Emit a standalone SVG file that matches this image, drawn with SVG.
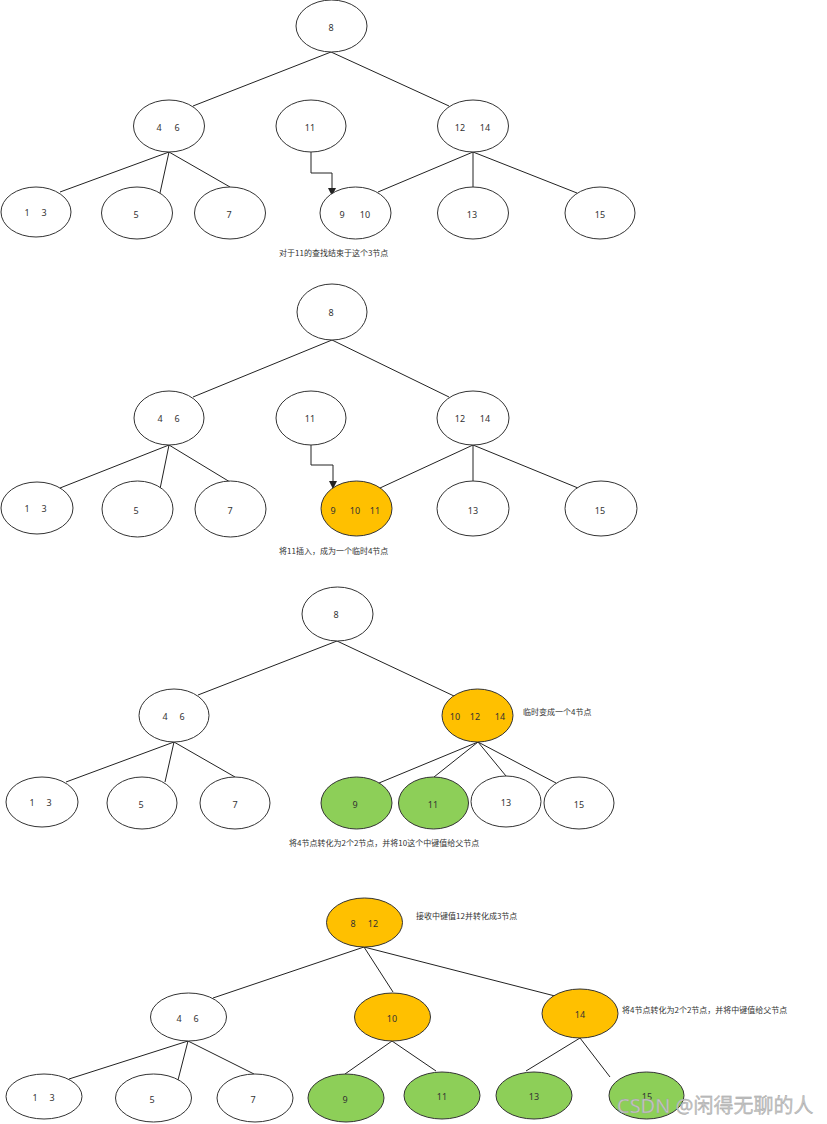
<svg xmlns="http://www.w3.org/2000/svg" width="827" height="1124" viewBox="0 0 827 1124">
<style>
.n{fill:#fff;stroke:#333;stroke-width:1}
.o{fill:#FFC000;stroke:#333;stroke-width:1}
.g{fill:#8DCF58;stroke:#333;stroke-width:1}
.t{font-family:"Noto Sans","Noto Sans CJK SC",sans-serif;font-size:9px;fill:#333;text-anchor:middle;dominant-baseline:central}
.c{font-family:"Noto Sans CJK SC","Noto Sans",sans-serif;font-size:8px;fill:#333}
.e{stroke:#222;stroke-width:1;fill:none}
.wm{font-family:"Noto Sans","Noto Sans CJK SC",sans-serif;font-size:20px;fill:#c4c4c4;stroke:#9a9a9a;stroke-width:0.3}
</style>
<defs>
<marker id="ah" markerWidth="8" markerHeight="8" refX="7" refY="4" orient="auto" markerUnits="userSpaceOnUse">
<path d="M0,0 L8,4 L0,8 Z" fill="#222"/>
</marker>
</defs>
<rect width="827" height="1124" fill="#fff"/>

<g id="connectors">
<line class="e" x1="331" y1="52" x2="193" y2="106"/>
<line class="e" x1="331" y1="52" x2="449" y2="106"/>
<line class="e" x1="169" y1="152" x2="60" y2="192"/>
<line class="e" x1="169" y1="152" x2="160" y2="193"/>
<line class="e" x1="169" y1="152" x2="230" y2="187"/>
<line class="e" x1="473" y1="152" x2="378" y2="192"/>
<line class="e" x1="473" y1="152" x2="473" y2="188"/>
<line class="e" x1="473" y1="152" x2="577" y2="193"/>
<polyline class="e" points="311,152 311,173 332,173 332,195" marker-end="url(#ah)"/>
<line class="e" x1="332" y1="340" x2="193" y2="397"/>
<line class="e" x1="332" y1="340" x2="449" y2="397"/>
<line class="e" x1="169" y1="445" x2="60" y2="488"/>
<line class="e" x1="169" y1="445" x2="160" y2="489"/>
<line class="e" x1="169" y1="445" x2="230" y2="482"/>
<line class="e" x1="473" y1="445" x2="380" y2="488"/>
<line class="e" x1="473" y1="445" x2="473" y2="481"/>
<line class="e" x1="473" y1="445" x2="578" y2="488"/>
<polyline class="e" points="311,445 311,465 333,465 333,488" marker-end="url(#ah)"/>
<line class="e" x1="337" y1="641" x2="198" y2="695"/>
<line class="e" x1="337" y1="641" x2="454" y2="696"/>
<line class="e" x1="174" y1="742" x2="66" y2="782"/>
<line class="e" x1="174" y1="742" x2="165" y2="782"/>
<line class="e" x1="174" y1="742" x2="235" y2="777"/>
<line class="e" x1="478" y1="742" x2="379" y2="783"/>
<line class="e" x1="478" y1="742" x2="434" y2="777"/>
<line class="e" x1="478" y1="742" x2="506" y2="776"/>
<line class="e" x1="478" y1="742" x2="556" y2="783"/>
<line class="e" x1="364" y1="947" x2="213" y2="998"/>
<line class="e" x1="364" y1="947" x2="393" y2="992"/>
<line class="e" x1="364" y1="947" x2="555" y2="996"/>
<line class="e" x1="188" y1="1041" x2="69" y2="1079"/>
<line class="e" x1="188" y1="1041" x2="178" y2="1080"/>
<line class="e" x1="188" y1="1041" x2="254" y2="1074"/>
<line class="e" x1="392" y1="1041" x2="345" y2="1074"/>
<line class="e" x1="392" y1="1041" x2="436" y2="1071"/>
<line class="e" x1="580" y1="1038" x2="526" y2="1071"/>
<line class="e" x1="580" y1="1038" x2="610" y2="1077"/>
</g>

<g id="p1-8"><ellipse class="n" cx="331.5" cy="26" rx="35.5" ry="26"/><text class="t" x="331" y="27">8</text></g>
<g id="p1-46"><ellipse class="n" cx="169" cy="126" rx="35.5" ry="26"/><text class="t" y="127"><tspan x="159">4</tspan><tspan x="177">6</tspan></text></g>
<g id="p1-11"><ellipse class="n" cx="311" cy="126" rx="35" ry="26"/><text class="t" x="310" y="127">11</text></g>
<g id="p1-1214"><ellipse class="n" cx="473" cy="126" rx="35.5" ry="26"/><text class="t" y="127"><tspan x="460">12</tspan><tspan x="485">14</tspan></text></g>
<g id="p1-13a"><ellipse class="n" cx="36" cy="212" rx="35" ry="25"/><text class="t" y="212"><tspan x="27">1</tspan><tspan x="44">3</tspan></text></g>
<g id="p1-5"><ellipse class="n" cx="137" cy="213" rx="35.5" ry="26"/><text class="t" x="136" y="214">5</text></g>
<g id="p1-7"><ellipse class="n" cx="230" cy="213" rx="35.5" ry="26"/><text class="t" x="229" y="214">7</text></g>
<g id="p1-910"><ellipse class="n" cx="355.5" cy="213" rx="35.5" ry="26"/><text class="t" y="214"><tspan x="342">9</tspan><tspan x="365">10</tspan></text></g>
<g id="p1-13"><ellipse class="n" cx="473" cy="213" rx="35.5" ry="26"/><text class="t" x="472" y="214">13</text></g>
<g id="p1-15"><ellipse class="n" cx="600" cy="213" rx="35" ry="26"/><text class="t" x="600" y="214">15</text></g>
<g id="p1-cap"><text class="c" x="279" y="256">对于11的查找结束于这个3节点</text></g>

<g id="p2-8"><ellipse class="n" cx="332" cy="312" rx="35" ry="28"/><text class="t" x="331" y="312">8</text></g>
<g id="p2-46"><ellipse class="n" cx="169" cy="418" rx="35" ry="27"/><text class="t" y="418"><tspan x="160">4</tspan><tspan x="177">6</tspan></text></g>
<g id="p2-11"><ellipse class="n" cx="311" cy="418" rx="35" ry="27"/><text class="t" x="310" y="418">11</text></g>
<g id="p2-1214"><ellipse class="n" cx="473" cy="418" rx="36" ry="27"/><text class="t" y="418"><tspan x="460">12</tspan><tspan x="485">14</tspan></text></g>
<g id="p2-13a"><ellipse class="n" cx="37" cy="508" rx="36" ry="26"/><text class="t" y="508"><tspan x="27">1</tspan><tspan x="44">3</tspan></text></g>
<g id="p2-5"><ellipse class="n" cx="137.5" cy="509" rx="35.5" ry="28"/><text class="t" x="136" y="510">5</text></g>
<g id="p2-7"><ellipse class="n" cx="230.5" cy="509" rx="35.5" ry="28"/><text class="t" x="230" y="510">7</text></g>
<g id="p2-91011"><ellipse class="o" cx="356.5" cy="508.5" rx="35.5" ry="27.5"/><text class="t" y="510"><tspan x="333">9</tspan><tspan x="355">10</tspan><tspan x="375">11</tspan></text></g>
<g id="p2-13"><ellipse class="n" cx="473" cy="508.5" rx="36" ry="27.5"/><text class="t" x="473" y="510">13</text></g>
<g id="p2-15"><ellipse class="n" cx="601" cy="508.5" rx="36" ry="27.5"/><text class="t" x="600" y="510">15</text></g>
<g id="p2-cap"><text class="c" x="279" y="554">将11插入，成为一个临时4节点</text></g>

<g id="p3-8"><ellipse class="n" cx="337.5" cy="614" rx="35.5" ry="27"/><text class="t" x="336" y="614">8</text></g>
<g id="p3-46"><ellipse class="n" cx="174" cy="715.5" rx="35" ry="26.5"/><text class="t" y="716"><tspan x="165">4</tspan><tspan x="182">6</tspan></text></g>
<g id="p3-101214"><ellipse class="o" cx="477.5" cy="715.5" rx="35.5" ry="26.5"/><text class="t" y="716"><tspan x="455">10</tspan><tspan x="475">12</tspan><tspan x="500">14</tspan></text></g>
<g id="p3-note"><text class="c" x="523" y="715">临时变成一个4节点</text></g>
<g id="p3-13a"><ellipse class="n" cx="42" cy="802" rx="36" ry="25"/><text class="t" y="802"><tspan x="32">1</tspan><tspan x="49">3</tspan></text></g>
<g id="p3-5"><ellipse class="n" cx="142" cy="803" rx="35" ry="26"/><text class="t" x="141" y="804">5</text></g>
<g id="p3-7"><ellipse class="n" cx="235" cy="803" rx="35" ry="26"/><text class="t" x="235" y="804">7</text></g>
<g id="p3-9"><ellipse class="g" cx="356.5" cy="803" rx="35.5" ry="26"/><text class="t" x="355" y="804">9</text></g>
<g id="p3-11"><ellipse class="g" cx="433.5" cy="803" rx="35" ry="26"/><text class="t" x="433" y="804">11</text></g>
<g id="p3-13"><ellipse class="n" cx="506" cy="801.5" rx="35" ry="25.5"/><text class="t" x="506" y="802">13</text></g>
<g id="p3-15"><ellipse class="n" cx="579" cy="803" rx="35" ry="26"/><text class="t" x="579" y="804">15</text></g>
<g id="p3-cap"><text class="c" x="289" y="846">将4节点转化为2个2节点，并将10这个中键值给父节点</text></g>

<g id="p4-812"><ellipse class="o" cx="364.5" cy="922.5" rx="38" ry="24.5"/><text class="t" y="923"><tspan x="353">8</tspan><tspan x="373">12</tspan></text></g>
<g id="p4-note1"><text class="c" x="416" y="919">接收中键值12并转化成3节点</text></g>
<g id="p4-46"><ellipse class="n" cx="188.5" cy="1017" rx="38" ry="24"/><text class="t" y="1018"><tspan x="179">4</tspan><tspan x="196">6</tspan></text></g>
<g id="p4-10"><ellipse class="o" cx="392.5" cy="1017" rx="38" ry="24"/><text class="t" x="392" y="1018">10</text></g>
<g id="p4-14"><ellipse class="o" cx="580" cy="1013.5" rx="38" ry="24.5"/><text class="t" x="580" y="1014">14</text></g>
<g id="p4-note2"><text class="c" x="622" y="1013">将4节点转化为2个2节点，并将中键值给父节点</text></g>
<g id="p4-13a"><ellipse class="n" cx="44" cy="1096.5" rx="38" ry="22.5"/><text class="t" y="1097"><tspan x="35">1</tspan><tspan x="52">3</tspan></text></g>
<g id="p4-5"><ellipse class="n" cx="153.5" cy="1098" rx="38" ry="24"/><text class="t" x="152" y="1099">5</text></g>
<g id="p4-7"><ellipse class="n" cx="255" cy="1098" rx="38" ry="24"/><text class="t" x="253" y="1099">7</text></g>
<g id="p4-9"><ellipse class="g" cx="346" cy="1098" rx="38" ry="24"/><text class="t" x="345" y="1099">9</text></g>
<g id="p4-11"><ellipse class="g" cx="442" cy="1095.5" rx="38" ry="23.5"/><text class="t" x="442" y="1096">11</text></g>
<g id="p4-13"><ellipse class="g" cx="534" cy="1095.5" rx="38" ry="23.5"/><text class="t" x="534" y="1096">13</text></g>
<g id="p4-15"><ellipse class="g" cx="646.5" cy="1095.5" rx="37.5" ry="23.5"/><text class="t" x="647" y="1096">15</text></g>

<g id="watermark"><text class="wm" x="617" y="1113">CSDN @闲得无聊的人</text></g>
</svg>
